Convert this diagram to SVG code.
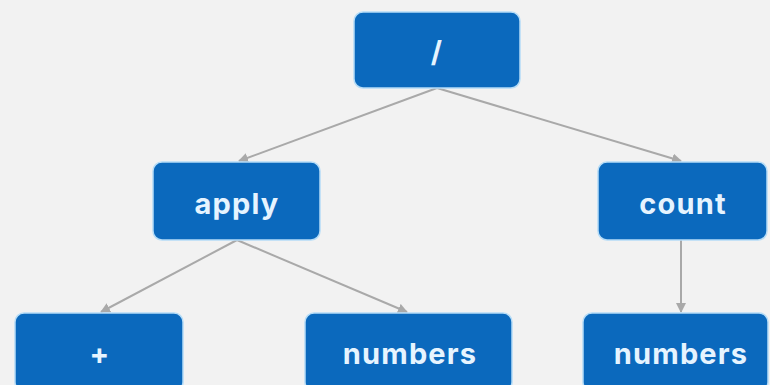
<svg xmlns="http://www.w3.org/2000/svg" width="770" height="385" viewBox="0 0 770 385">
  <style>
    .node rect { fill: #0b69bd; stroke: #b5dcf7; stroke-width: 1.5; }
    .node text { fill: #e6f4ff; font-family: Inter, "Open Sans", "Liberation Sans", sans-serif; font-weight: 700; font-size: 29px; letter-spacing: 1.2px; text-anchor: middle; }
    .edge { stroke: #a9a9a9; stroke-width: 2; fill: none; marker-end: url(#arrow); }
  </style>
  <defs>
    <marker id="arrow" viewBox="0 0 10 10" refX="9" refY="5" markerWidth="5" markerHeight="5" orient="auto-start-reverse" markerUnits="strokeWidth">
      <path d="M0,0 L10,5 L0,10 z" fill="#a9a9a9"/>
    </marker>
  </defs>
  <rect width="770" height="385" fill="#f2f2f2"/>

  <g id="connectors">
    <line class="edge" x1="437" y1="88" x2="239" y2="161"/>
    <line class="edge" x1="437" y1="88" x2="681" y2="161"/>
    <line class="edge" x1="237" y1="240" x2="101" y2="312"/>
    <line class="edge" x1="237" y1="240" x2="407" y2="312"/>
    <line class="edge" x1="681" y1="240" x2="681" y2="312"/>
  </g>

  <g id="node-div" class="node">
    <rect x="354" y="12" width="166" height="76" rx="9"/>
    <text x="437" y="62">/</text>
  </g>
  <g id="node-apply" class="node">
    <rect x="153" y="162" width="167" height="78" rx="9"/>
    <text x="237" y="214">apply</text>
  </g>
  <g id="node-count" class="node">
    <rect x="598" y="162" width="169" height="78" rx="9"/>
    <text x="683" y="214">count</text>
  </g>
  <g id="node-plus" class="node">
    <rect x="15" y="313" width="168" height="78" rx="9"/>
    <text x="100" y="364">+</text>
  </g>
  <g id="node-numbers-1" class="node">
    <rect x="305" y="313" width="207" height="78" rx="9"/>
    <text x="410" y="364">numbers</text>
  </g>
  <g id="node-numbers-2" class="node">
    <rect x="583" y="313" width="185" height="78" rx="9"/>
    <text x="681" y="364">numbers</text>
  </g>
</svg>
